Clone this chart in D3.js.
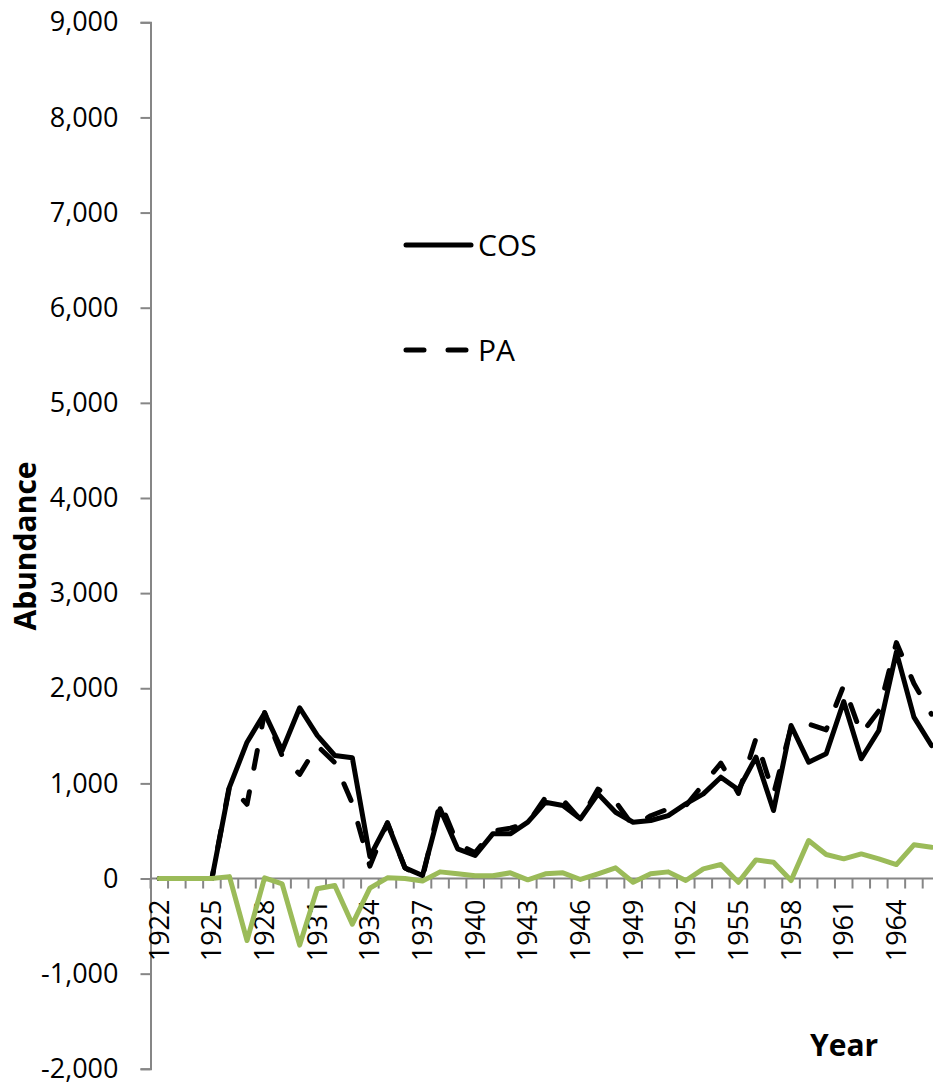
<html>
  <head>
    <meta charset="utf-8">
    <title>Abundance by year</title>
    <script type="text/javascript" src="https://d3js.org/d3.v7.min.js"></script>
    <style type="text/css">
      body { margin: 0; background: #fff; }
      text { font-family: "Open Sans", sans-serif; fill: #000; }
    </style>
  </head>
  <body>
    <script type="text/javascript">

      //Data
      var years = d3.range(1922, 1967);
      var cos = [0, 0, 0, 0, 960, 1433, 1738, 1346, 1795, 1504, 1293, 1269, 230, 581, 112, 32,
                 733, 312, 242, 470, 470, 592, 802, 768, 628, 890, 697, 592, 610, 662, 785, 890,
                 1065, 933, 1276, 715, 1609, 1223, 1311, 1860, 1259, 1556, 2380, 1696, 1398];
      var pa = [0, 0, 0, 0, 980, 781, 1745, 1290, 1095, 1396, 1219, 789, 130, 588, 112, 7,
                803, 362, 272, 500, 530, 578, 852, 828, 618, 940, 809, 553, 660, 732, 764, 992,
                1212, 894, 1472, 887, 1588, 1623, 1563, 2030, 1518, 1763, 2480, 2050, 1727];
      var diff = [0, 0, 0, 0, 20, -652, 7, -56, -700, -108, -74, -480, -100, 7, 0, -25,
                  70, 50, 30, 30, 60, -14, 50, 60, -10, 50, 112, -39, 50, 70, -21, 102,
                  147, -39, 196, 172, -21, 400, 252, 207, 259, 207, 147, 354, 329];
      var yTicks = d3.range(-2000, 9001, 1000);
      var xLabels = years.filter(function(d){ return (d - 1922) % 3 === 0; });

      //Width and height
      var w = 933;
      var h = 1086;
      var left = 150.5;
      var step = 17.55;

      var svg = d3.select("body")
            .append("svg")
            .attr("width", w)
            .attr("height", h);

      var x = d3.scaleBand()
            .domain(years)
            .range([left, left + step * years.length]);

      var y = d3.scaleLinear()
            .domain([-2000, 9000])
            .range([1068.8, 22.3]);

      var axisColor = "#868686";

      //Y axis
      var fmt = d3.format(",");
      var yAxis = svg.append("g")
            .attr("transform", "translate(" + left + ",0)")
            .call(d3.axisLeft(y).tickValues(yTicks).tickSize(10).tickPadding(22)
                  .tickFormat(function(d){ return (d < 0 ? "-" : "") + fmt(Math.abs(d)); }));
      yAxis.select(".domain").attr("stroke", axisColor).attr("stroke-width", 2);
      yAxis.selectAll(".tick line").attr("stroke", axisColor).attr("stroke-width", 2);
      yAxis.selectAll(".tick text")
            .attr("font-size", 27)
            .attr("font-family", "Open Sans, sans-serif")
            .attr("fill", "#000");

      //X axis at zero
      var y0 = y(0);
      svg.append("line")
            .attr("x1", left).attr("x2", x.range()[1])
            .attr("y1", y0).attr("y2", y0)
            .attr("stroke", axisColor).attr("stroke-width", 2);

      svg.selectAll(".xtick")
            .data(years.concat([years[years.length - 1] + 1]))
            .enter()
            .append("line")
            .attr("class", "xtick")
            .attr("x1", function(d, i){ return left + i * x.step(); })
            .attr("x2", function(d, i){ return left + i * x.step(); })
            .attr("y1", y0)
            .attr("y2", y0 + 10)
            .attr("stroke", axisColor).attr("stroke-width", 2);

      svg.selectAll(".xlabel")
            .data(xLabels)
            .enter()
            .append("text")
            .attr("class", "xlabel")
            .attr("transform", function(d){
              return "translate(" + (x(d) + x.bandwidth() / 2) + "," + (y0 + 21) + ") rotate(-90)";
            })
            .attr("text-anchor", "end")
            .attr("dy", "0.35em")
            .attr("font-size", 27)
            .text(function(d){ return d; });

      //Axis titles
      svg.append("text")
            .attr("transform", "translate(36,546) rotate(-90)")
            .attr("text-anchor", "middle")
            .attr("font-size", 30)
            .attr("font-weight", "bold")
            .text("Abundance");

      svg.append("text")
            .attr("x", 810)
            .attr("y", 1056)
            .attr("font-size", 30)
            .attr("font-weight", "bold")
            .text("Year");

      //Lines
      var line = function(values){
        return d3.line()
            .x(function(d, i){ return x(years[i]) + x.bandwidth() / 2; })
            .y(function(d){ return y(d); })(values);
      };

      var series = [
        { values: cos, color: "#000", dash: null },
        { values: pa, color: "#000", dash: "18,24" },
        { values: diff, color: "#9BBB59", dash: null }
      ];

      svg.selectAll(".series")
            .data(series)
            .enter()
            .append("path")
            .attr("class", "series")
            .attr("d", function(d){ return line(d.values); })
            .attr("fill", "none")
            .attr("stroke", function(d){ return d.color; })
            .attr("stroke-width", 5)
            .attr("stroke-linejoin", "round")
            .attr("stroke-linecap", "round")
            .attr("stroke-dasharray", function(d){ return d.dash; });

      //Legend
      var legend = [
        { name: "COS", dash: null, y: 245, x2: 471 },
        { name: "PA", dash: "18,24", y: 350, x2: 466 }
      ];

      var lg = svg.selectAll(".legend")
            .data(legend)
            .enter()
            .append("g")
            .attr("class", "legend");

      lg.append("line")
            .attr("x1", 406)
            .attr("x2", function(d){ return d.x2; })
            .attr("y1", function(d){ return d.y; })
            .attr("y2", function(d){ return d.y; })
            .attr("stroke", "#000")
            .attr("stroke-width", 5)
            .attr("stroke-linecap", "round")
            .attr("stroke-dasharray", function(d){ return d.dash; });

      lg.append("text")
            .attr("x", 478)
            .attr("y", function(d){ return d.y; })
            .attr("dy", "0.35em")
            .attr("font-size", 30)
            .text(function(d){ return d.name; });

    </script>
  </body>
</html>
